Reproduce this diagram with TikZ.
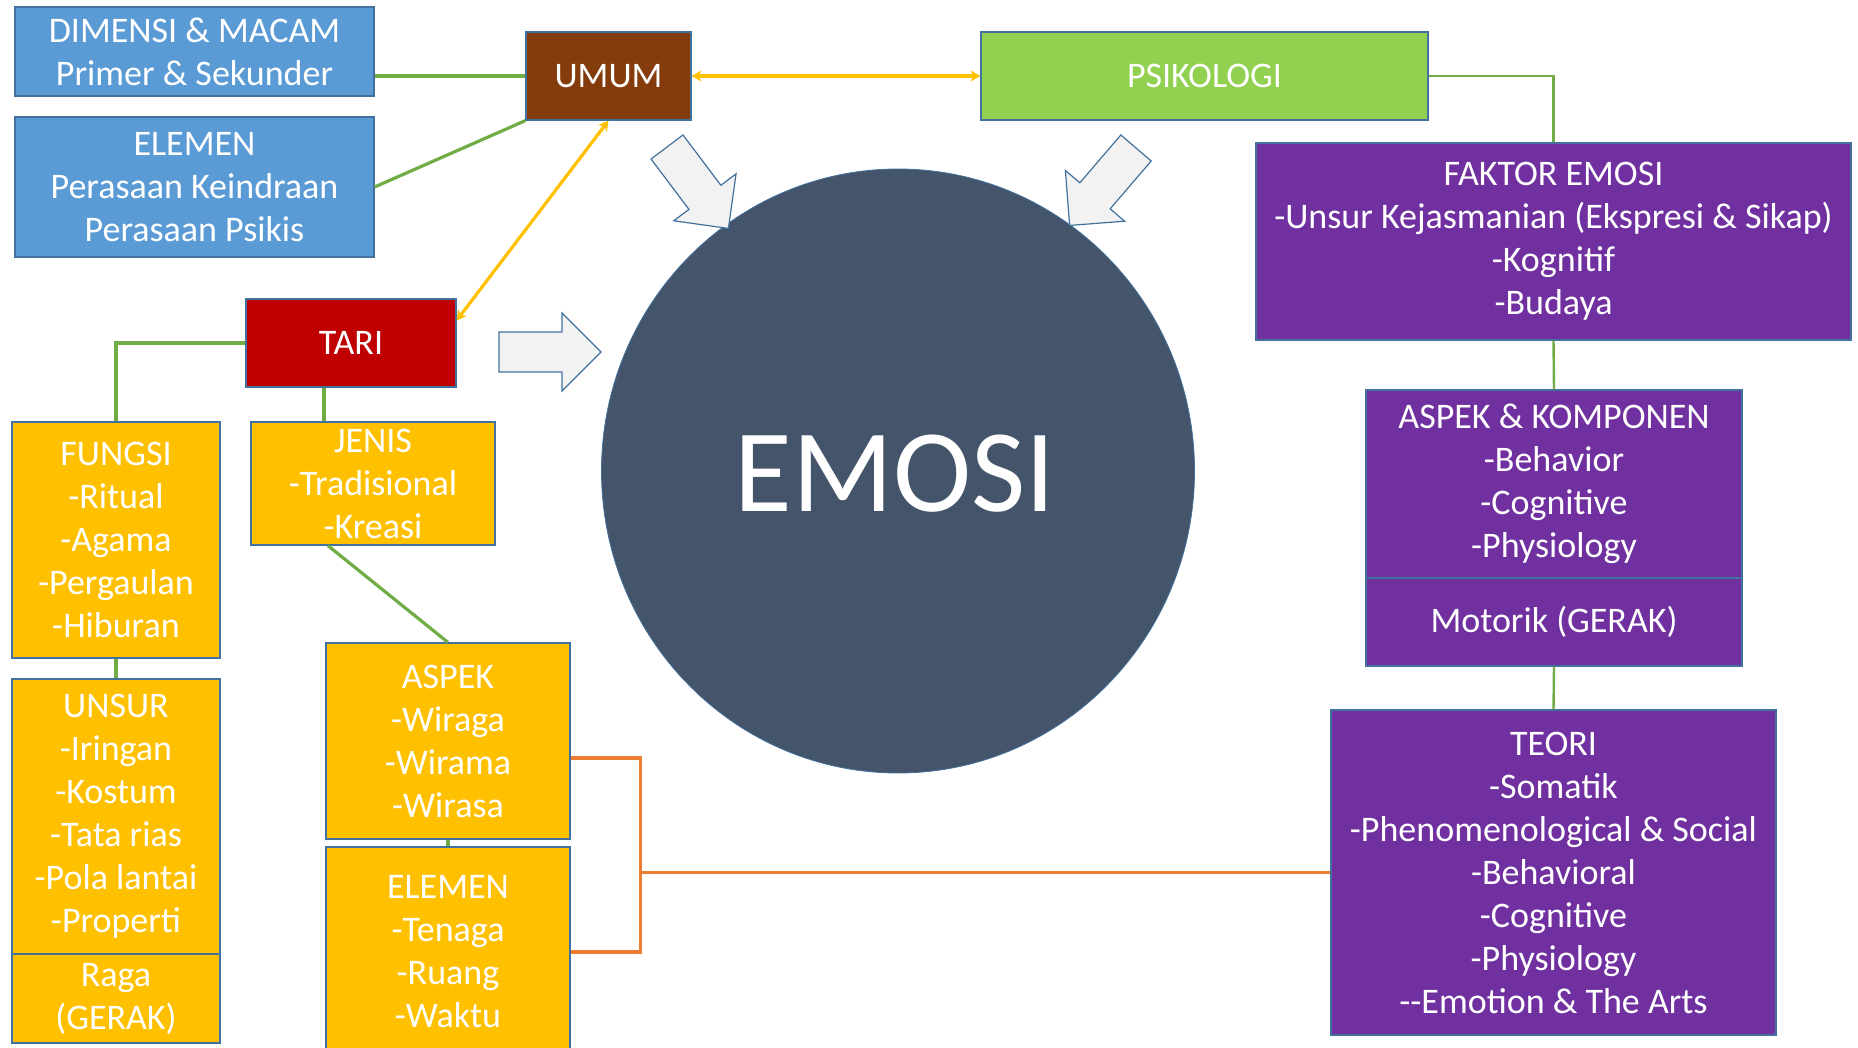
\documentclass[tikz,border=0pt]{standalone}
\usepackage{fontspec}
\setmainfont{Carlito}
\usepackage{tikz}
\usetikzlibrary{arrows.meta}
\usetikzlibrary{shapes.geometric}
\usetikzlibrary{calc}
\definecolor{bluebox}{HTML}{5B9BD5}
\definecolor{brownbox}{HTML}{843C0C}
\definecolor{greenbox}{HTML}{92D050}
\definecolor{purplebox}{HTML}{7030A0}
\definecolor{redbox}{HTML}{C00000}
\definecolor{yellowbox}{HTML}{FFC000}
\definecolor{slatecirc}{HTML}{44546A}
\definecolor{edgeblue}{HTML}{41719C}
\definecolor{greenline}{HTML}{70AD47}
\definecolor{orangeline}{HTML}{ED7D31}
\definecolor{lightfill}{HTML}{F2F2F2}
\tikzstyle{box}=[draw=edgeblue, line width=1.2pt, text=white, align=center, inner sep=2pt, font=\fontsize{36}{43}\selectfont]
\tikzstyle{link}=[greenline, line width=3.2pt]
\tikzstyle{thinlink}=[greenline, line width=2.4pt]
\tikzstyle{goldlink}=[yellowbox, line width=3.2pt, {Stealth[length=10pt,width=11pt]}-{Stealth[length=10pt,width=11pt]}]
\tikzstyle{olink}=[orangeline, line width=3.2pt]
\tikzstyle{blockarrow}=[draw=edgeblue, fill=lightfill, line width=1.2pt, line join=miter]

\begin{document}
\begin{tikzpicture}[x=1pt, y=-1pt]
        \useasboundingbox (0,0) rectangle (1858,1048);
        % centre
        \node[ellipse, fill=slatecirc, draw=edgeblue, line width=0.8pt, minimum width=593, minimum height=604, inner sep=0pt] (Emosi) at (898, 471) {};
        \node[text=white, font=\fontsize{118}{118}\selectfont] (EmosiText) at (895, 474) {EMOSI};
        % left top
        \node[box, fill=bluebox, minimum width=359, minimum height=89] (Dimensi) at (194.5, 51.5) {DIMENSI \& MACAM\\Primer \& Sekunder};
        \node[box, fill=bluebox, minimum width=359, minimum height=140] (ElemenA) at (194.5, 187) {ELEMEN\\Perasaan Keindraan\\Perasaan Psikis};
        \node[box, fill=brownbox, minimum width=165, minimum height=88] (Umum) at (608.5, 76) {UMUM};
        \node[box, fill=greenbox, minimum width=447, minimum height=88] (Psiko) at (1204.5, 76) {PSIKOLOGI};
        % tari branch
        \node[box, fill=redbox, minimum width=210, minimum height=88] (Tari) at (351, 343) {TARI};
        \node[box, fill=yellowbox, minimum width=208, minimum height=236] (Fungsi) at (116, 540) {FUNGSI\\-Ritual\\-Agama\\-Pergaulan\\-Hiburan};
        \node[box, fill=yellowbox, minimum width=208, minimum height=275] (Unsur) at (116, 816.5) {UNSUR\\-Iringan\\-Kostum\\-Tata rias\\-Pola lantai\\-Properti};
        \node[box, fill=yellowbox, minimum width=208, minimum height=89] (Raga) at (116, 998.5) {Raga\\(GERAK)};
        \node[box, fill=yellowbox, minimum width=244, minimum height=123] (Jenis) at (373, 483.5) {JENIS\\-Tradisional\\-Kreasi};
        \node[box, fill=yellowbox, minimum width=244, minimum height=196] (Aspek) at (448, 741) {ASPEK\\-Wiraga\\-Wirama\\-Wirasa};
        \node[box, fill=yellowbox, minimum width=244, minimum height=210] (ElemenB) at (448, 952) {ELEMEN\\-Tenaga\\-Ruang\\-Waktu};
        % psikologi branch
        \node[box, fill=purplebox, minimum width=595, minimum height=197] (Faktor) at (1553.5, 241.5) {FAKTOR EMOSI\\-Unsur Kejasmanian (Ekspresi \& Sikap)\\-Kognitif\\-Budaya};
        \node[box, fill=purplebox, minimum width=376, minimum height=188] (AspekKomp) at (1554, 484) {ASPEK \& KOMPONEN\\-Behavior\\-Cognitive\\-Physiology};
        \node[box, fill=purplebox, minimum width=376, minimum height=88] (Motorik) at (1554, 622) {Motorik (GERAK)};
        \node[box, fill=purplebox, minimum width=445, minimum height=325] (Teori) at (1553.5, 872.5) {TEORI\\-Somatik\\-Phenomenological \& Social\\-Behavioral\\-Cognitive\\-Physiology\\-{}-Emotion \& The Arts};
        % block arrows
        \draw[blockarrow, shift={(499,352)}] (0,-20) -- (63,-20) -- (63,-39) -- (102,0) -- (63,39) -- (63,20) -- (0,20) -- cycle;
        \draw[blockarrow, shift={(667,147)}, rotate=-53] (0,-20) -- (63,-20) -- (63,-39) -- (102,0) -- (63,39) -- (63,20) -- (0,20) -- cycle;
        \draw[blockarrow, shift={(1136,148)}, rotate=-130.6] (0,-20) -- (63,-20) -- (63,-39) -- (102,0) -- (63,39) -- (63,20) -- (0,20) -- cycle;
        % connectors
        \draw[link] (Umum.west) -- (Umum.west -| Dimensi.east);
        \draw[link] (ElemenA.east) -- (Umum.south west);
        \draw[goldlink] (Umum.east) -- (Psiko.west);
        \draw[goldlink] (Umum.south) -- (Tari.12);
        \draw[link] (Tari.west) -| (Fungsi.north);
        \draw[link] (Tari.south) ++(-27,0) coordinate (T1) -- (T1 |- Jenis.north);
        \draw[link] (Fungsi.south) -- (Unsur.north);
        \draw[link] (Jenis.234) -- (Aspek.north);
        \draw[link] (Aspek.south) -- (ElemenB.north);
        \draw[thinlink] (Psiko.east) -| (Faktor.north);
        \draw[thinlink] (Faktor.south) -- (AspekKomp.north);
        \draw[thinlink] (Motorik.south) -- (Teori.north);
        \draw[olink] (Aspek.east) ++(0,17) coordinate (O0) -- ++(70,0) coordinate (O1) -- (O1 |- ElemenB.east) -- (ElemenB.east);
        \draw[olink] (Teori.west) -- (Teori.west -| O1);
    \end{tikzpicture}
\end{document}
